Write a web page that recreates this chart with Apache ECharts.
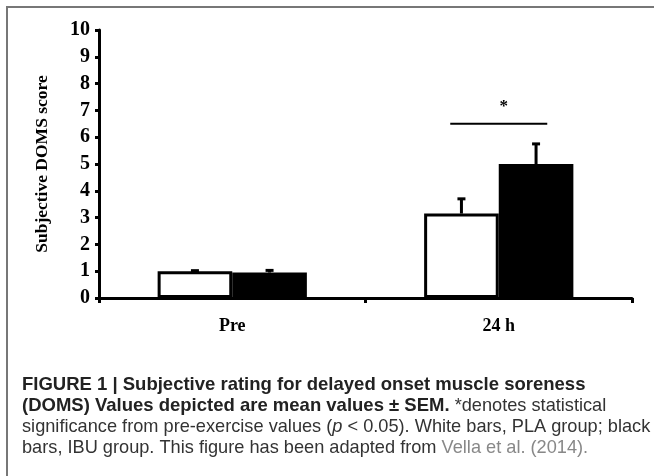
<!DOCTYPE html>
<html>
<head>
<meta charset="utf-8">
<style>
  html, body { margin: 0; padding: 0; background: #fff; }
  #chart { width: 654px; height: 476px; }
</style>
<script src="https://cdn.jsdelivr.net/npm/echarts@6/dist/echarts.min.js"></script>
</head>
<body>
<div id="chart"></div>
<script>
// values (mean ± SEM)
const categories = ['Pre', '24 h'];
const plaMean = [1.0, 3.15];
const plaSem = [0.02, 0.55];
const ibuMean = [0.95, 5.0];
const ibuSem = [0.08, 0.75];
const yTicks = [0, 1, 2, 3, 4, 5, 6, 7, 8, 9, 10];
const sigMarks = [[1, 6.5]]; // category index, level of the bracket

const BAR_FRAC = 0.28;
const serif = 'Liberation Serif';

const chart = echarts.init(document.getElementById('chart'));

function errorBars(offsetSign) {
  return function (params, api) {
    const cat = api.value(0);
    const mean = api.value(1);
    const sem = api.value(2);
    const catW = api.size([1, 0])[0];
    const dx = offsetSign * catW * BAR_FRAC / 2;
    const base = api.coord([cat, mean]);
    const top = api.coord([cat, mean + sem]);
    const x = base[0] + dx;
    const st = { stroke: '#000', lineWidth: 3 };
    return {
      type: 'group',
      children: [
        { type: 'line', shape: { x1: x, y1: base[1], x2: x, y2: top[1] }, style: st },
        { type: 'line', shape: { x1: x - 4, y1: top[1], x2: x + 4, y2: top[1] }, style: st }
      ]
    };
  };
}

const option = {
  animation: false,
  grid: { left: 99, right: 22, top: 30, bottom: 178 },
  xAxis: {
    type: 'category',
    data: categories,
    axisLine: { lineStyle: { color: '#000', width: 3 } },
    axisTick: { show: true, length: 5, lineStyle: { color: '#000', width: 3 } },
    axisLabel: { color: '#000', fontFamily: serif, fontWeight: 'bold', fontSize: 18, margin: 19 }
  },
  yAxis: {
    type: 'value',
    min: yTicks[0],
    max: yTicks[yTicks.length - 1],
    interval: 1,
    name: 'Subjective DOMS score',
    nameLocation: 'middle',
    nameGap: 48,
    nameTextStyle: { color: '#000', fontFamily: serif, fontWeight: 'bold', fontSize: 17.5 },
    axisLine: { show: true, lineStyle: { color: '#000', width: 3 } },
    axisTick: { show: true, length: 4, lineStyle: { color: '#000', width: 3 } },
    axisLabel: { color: '#000', fontFamily: serif, fontWeight: 'bold', fontSize: 20, margin: 9 },
    splitLine: { show: false }
  },
  series: [
    {
      name: 'PLA',
      type: 'bar',
      data: plaMean,
      barWidth: (BAR_FRAC * 100) + '%',
      barGap: '0%',
      itemStyle: { color: '#fff', borderColor: '#000', borderWidth: 3 }
    },
    {
      name: 'IBU',
      type: 'bar',
      data: ibuMean,
      barWidth: (BAR_FRAC * 100) + '%',
      barGap: '0%',
      itemStyle: { color: '#000', borderColor: '#000', borderWidth: 3 }
    },
    {
      type: 'custom',
      renderItem: errorBars(-1),
      data: plaMean.map((m, i) => [i, m, plaSem[i]]),
      clip: false,
      z: 5
    },
    {
      type: 'custom',
      renderItem: errorBars(1),
      data: ibuMean.map((m, i) => [i, m, ibuSem[i]]),
      clip: false,
      z: 5
    },
    {
      type: 'custom',
      data: sigMarks,
      clip: false,
      renderItem: function (params, api) {
        const p = api.coord([api.value(0), api.value(1)]);
        const half = api.size([1, 0])[0] * 0.182;
        return {
          type: 'group',
          children: [
            { type: 'line', shape: { x1: p[0] - half, y1: p[1], x2: p[0] + half, y2: p[1] },
              style: { stroke: '#000', lineWidth: 2 } },
            { type: 'text', x: p[0] + 5, y: p[1] - 17,
              style: { text: '*', fill: '#000', fontFamily: serif, fontWeight: 'bold', fontSize: 17, align: 'center', verticalAlign: 'middle' } }
          ]
        };
      }
    }
  ],
  graphic: [
    {
      type: 'rect',
      shape: { x: 7, y: 7, width: 700, height: 520 },
      style: { fill: 'none', stroke: '#777', lineWidth: 2 },
      silent: true
    },
    {
      type: 'text',
      left: 22,
      top: 374,
      style: {
        text: '{b|FIGURE 1 | Subjective rating for delayed onset muscle soreness}\n' +
              '{b|(DOMS) Values depicted are mean values ± SEM.}{n| *denotes statistical}\n' +
              '{n|significance from pre-exercise values (}{i|p}{n| < 0.05). White bars, PLA group; black}\n' +
              '{n|bars, IBU group. This figure has been adapted from }{g|Vella et al. (2014).}',
        lineHeight: 21,
        rich: {
          b: { fontFamily: 'Liberation Sans', fontWeight: 'bold', fontSize: 18.5, fill: '#222', lineHeight: 21 },
          n: { fontFamily: 'Liberation Sans', fontSize: 18.2, fill: '#333', lineHeight: 21 },
          i: { fontFamily: 'Liberation Sans', fontStyle: 'italic', fontSize: 18.2, fill: '#333', lineHeight: 21 },
          g: { fontFamily: 'Liberation Sans', fontSize: 18.2, fill: '#888', lineHeight: 21 }
        }
      }
    }
  ]
};

chart.setOption(option);
</script>
</body>
</html>
